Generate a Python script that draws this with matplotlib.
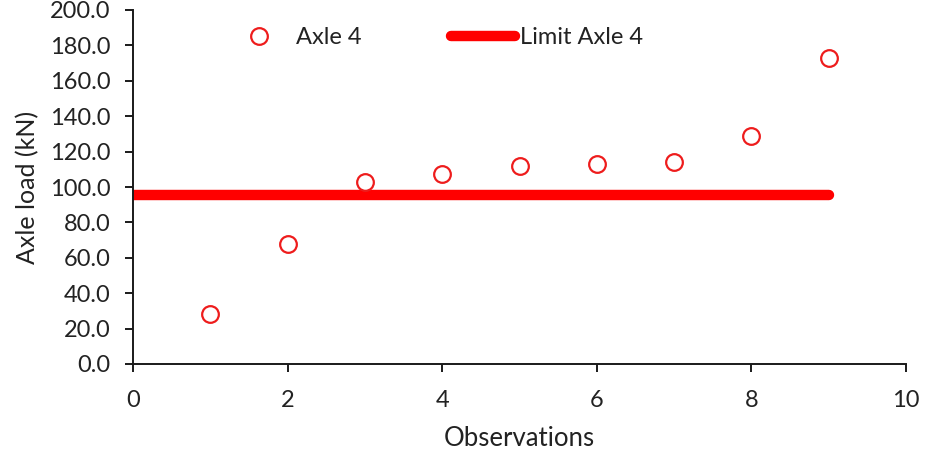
import matplotlib
matplotlib.use("Agg")
import matplotlib.pyplot as plt
from matplotlib.ticker import FormatStrFormatter

observations = [1, 2, 3, 4, 5, 6, 7, 8, 9]
axle4 = [28.0, 68.0, 102.8, 107.2, 111.8, 112.8, 114.0, 128.8, 172.8]
limit_x = [0, 9]
limit_y = [95.3, 95.3]

plt.rcParams['font.family'] = ['Lato', 'DejaVu Sans']

fig = plt.figure(figsize=(9.42, 4.51), dpi=100)
ax = fig.add_axes([133/942, 87/451, 773/942, 354/451])

ax.plot(observations, axle4, linestyle='none', marker='o', markersize=12,
        markerfacecolor='white', markeredgecolor='#EE1C1C', markeredgewidth=1.6,
        label='Axle 4', zorder=3)
ax.plot(limit_x, limit_y, color='#FF0000', linewidth=7.5, solid_capstyle='round',
        label='Limit Axle 4', zorder=2)

ax.set_xlim(0, 10)
ax.set_ylim(0, 200)
ax.set_xticks(range(0, 11, 2))
ax.set_yticks(range(0, 201, 20))
ax.yaxis.set_major_formatter(FormatStrFormatter('%.1f'))
for s in ['top', 'right']:
    ax.spines[s].set_visible(False)
for s in ['left', 'bottom']:
    ax.spines[s].set_linewidth(1.4)
    ax.spines[s].set_color('#1a1a1a')
ax.tick_params(direction='out', length=6, width=1.4, colors='#1a1a1a',
               labelsize=17, labelcolor='#222222', pad=10)
ax.tick_params(axis='x', pad=12.5)
ax.set_xlabel('Observations', fontsize=18.5, color='#222222', labelpad=11)
ax.set_ylabel('Axle load (kN)', fontsize=18, color='#222222', labelpad=8)

leg = ax.legend(ncol=2, frameon=False, fontsize=17, handlelength=2.7,
                handletextpad=0.2, columnspacing=3.8,
                loc='center', bbox_to_anchor=((435 - 133) / 773, 1 - (38 - 10) / 354))
for t in leg.get_texts():
    t.set_color('#222222')

fig.savefig('out.png', dpi=100, facecolor='white')
